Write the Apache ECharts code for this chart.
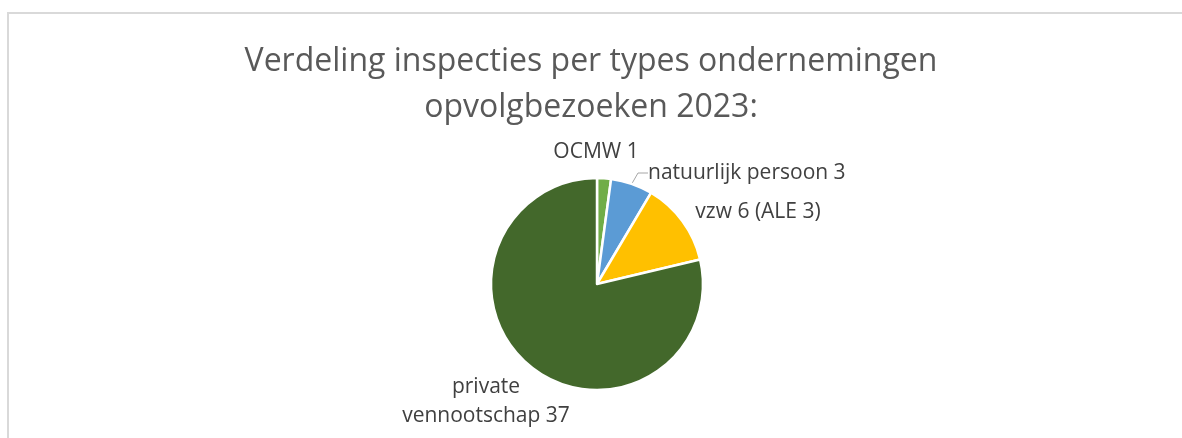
<!DOCTYPE html>
<html>
<head>
<meta charset="utf-8">
<script src="https://cdn.jsdelivr.net/npm/echarts@6/dist/echarts.min.js"></script>
<style>
  html, body { margin: 0; padding: 0; background: #fff; overflow: hidden; }
  #frame {
    position: absolute; left: 7px; top: 12px; width: 1200px; height: 500px;
    border-left: 2px solid #d9d9d9; border-top: 2px solid #d9d9d9;
  }
  #chart { position: absolute; left: 0; top: 0; width: 1182px; height: 438px; }
</style>
</head>
<body>
<div id="frame"></div>
<div id="chart"></div>
<script>
const titleLines = ['Verdeling inspecties per types ondernemingen', 'opvolgbezoeken 2023:']
const categories = ['OCMW', 'natuurlijk persoon', 'vzw', 'private vennootschap']
const values = [1, 3, 6, 37]
const labelTexts = ['OCMW 1', 'natuurlijk persoon 3', 'vzw 6 (ALE 3)', 'private\nvennootschap 37']
const colors = ['#70ad47', '#5b9bd5', '#ffc000', '#43682b']

// where each label sits (text anchor), Excel placed them by hand
const labelSpots = [
  { x: 596, y: 152, align: 'center' },
  { x: 648, y: 173, align: 'left' },
  { x: 758, y: 212, align: 'center' },
  { x: 486, y: 402, align: 'center' }
]

const chart = echarts.init(document.getElementById('chart'), null, { renderer: 'canvas' })

const option = {
  animation: false,
  title: {
    text: titleLines.join('\n'),
    left: 'center',
    top: 34,
    textStyle: {
      fontFamily: 'Open Sans',
      fontSize: 32,
      fontWeight: 'normal',
      color: '#595959',
      lineHeight: 46
    }
  },
  series: [
    {
      type: 'pie',
      center: [597, 284],
      radius: [0, 106],
      startAngle: 90,
      clockwise: true,
      itemStyle: { borderColor: '#fff', borderWidth: 2.5 },
      label: {
        show: true,
        fontFamily: 'Open Sans',
        fontSize: 21,
        color: '#404040',
        lineHeight: 29,
        formatter: p => labelTexts[p.dataIndex]
      },
      labelLine: {
        show: true,
        length: 4,
        length2: 10,
        lineStyle: { color: '#a6a6a6', width: 1 }
      },
      labelLayout: p => {
        const s = labelSpots[p.dataIndex]
        return { x: s.x, y: s.y, align: s.align, verticalAlign: 'middle', hideOverlap: false }
      },
      data: categories.map((name, i) => ({
        name,
        value: values[i],
        itemStyle: { color: colors[i] },
        labelLine: { show: i === 1 }
      }))
    }
  ]
}

chart.setOption(option)
</script>
</body>
</html>
